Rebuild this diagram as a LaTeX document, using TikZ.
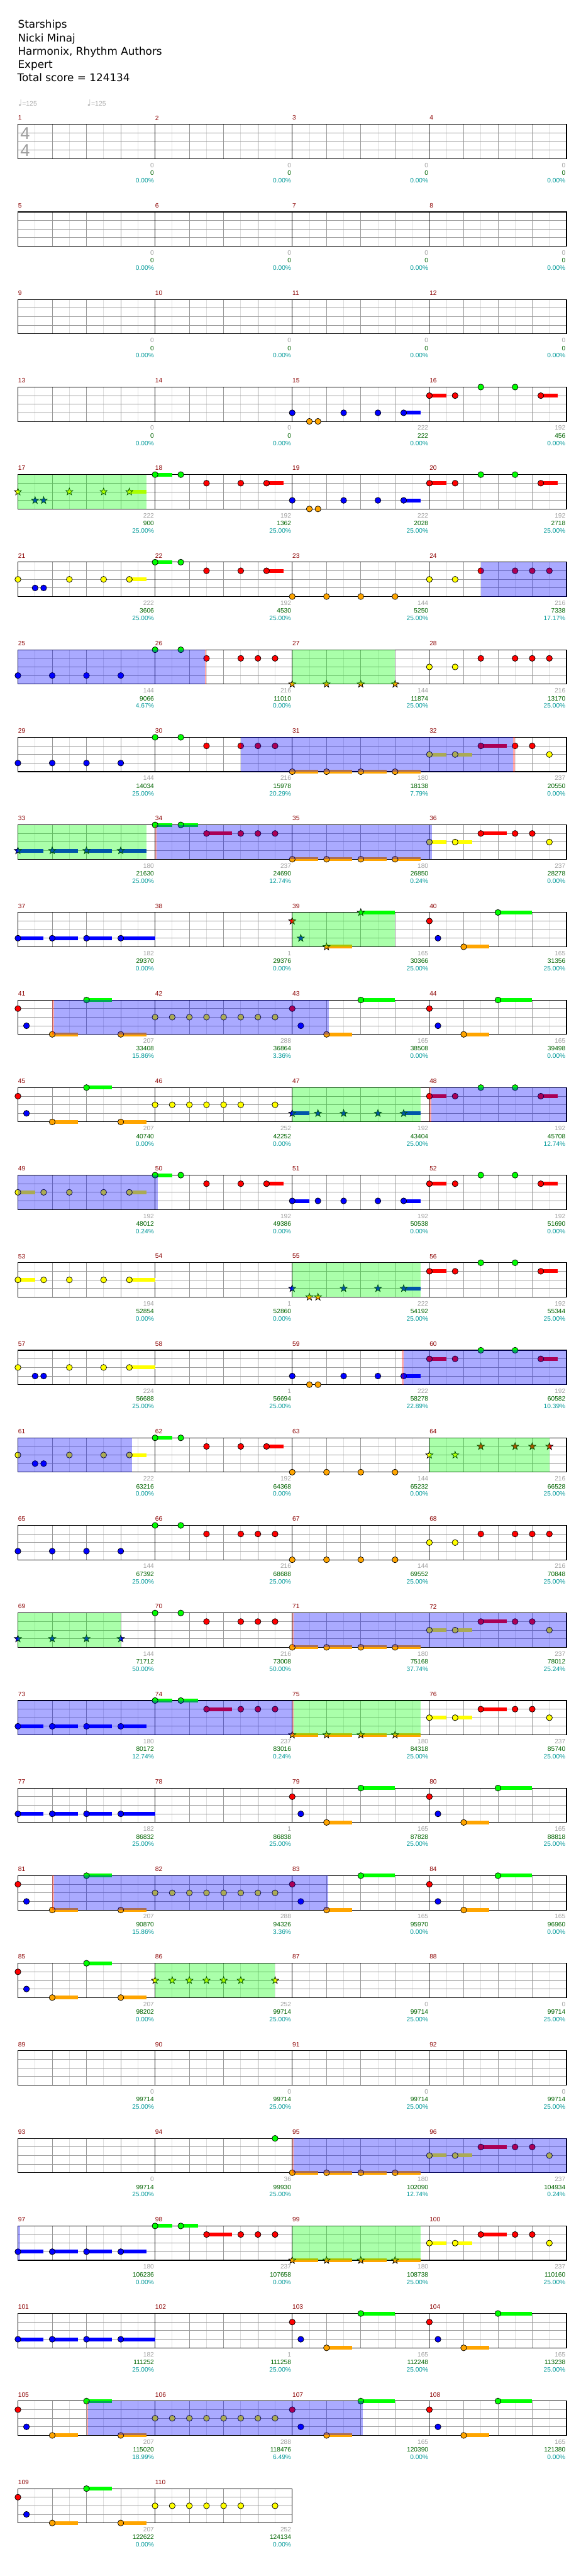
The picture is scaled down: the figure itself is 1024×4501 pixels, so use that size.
\documentclass[tikz,border=0pt]{standalone}
\usepackage{fontspec}
\newfontfamily\titlefont{DejaVu Sans}
\newfontfamily\labelfont{Liberation Sans}

\definecolor{lane0}{HTML}{00FF00}
\definecolor{lane1}{HTML}{FF0000}
\definecolor{lane2}{HTML}{FFFF00}
\definecolor{lane3}{HTML}{0000FF}
\definecolor{lane4}{HTML}{FFA500}
\definecolor{gridlight}{HTML}{DDDDDD}
\definecolor{gridbeat}{HTML}{999999}
\definecolor{numred}{HTML}{8B0000}
\definecolor{ptsgray}{HTML}{A0A0A0}
\definecolor{totgreen}{HTML}{006400}
\definecolor{pctteal}{HTML}{009999}
\definecolor{tempogray}{HTML}{B0B0B0}

\tikzset{
  staffrow/.style={shift={(31.3,{217.3+153*(#1-1)})}, x=29.9625pt},
  gem/.style={draw=black, line width=0.4pt},
  halfline/.style={draw=gridlight, line width=0.5pt},
  beatline/.style={draw=gridbeat, line width=0.5pt},
  laneline/.style={draw=gridbeat, line width=0.5pt},
  barline/.style={draw=black, line width=0.5pt},
  staffedge/.style={draw=black, line width=0.6pt},
  spfill/.style={fill=lane0, fill opacity=0.333},
  odfill/.style={fill=lane3, fill opacity=0.333},
  odpink/.style={fill=lane1, fill opacity=0.333},
  smallnum/.style={inner sep=0pt, font=\labelfont\fontsize{5.6pt}{6pt}\selectfont},
  barnum/.style={smallnum, anchor=west, text=numred},
  ptslbl/.style={smallnum, anchor=east, xshift=-0.75pt, text=ptsgray},
  totlbl/.style={smallnum, anchor=east, xshift=-0.75pt, text=totgreen},
  pctlbl/.style={smallnum, anchor=east, xshift=-0.75pt, text=pctteal},
  titletext/.style={anchor=base west, inner sep=0pt, font=\titlefont\fontsize{9.25pt}{11pt}\selectfont},
  tempo/.style={anchor=base west, inner sep=0pt, text=tempogray},
  timesig/.style={inner sep=0pt, text=ptsgray, font=\labelfont\fontsize{15pt}{15pt}\selectfont}
}

% grid of one row, #1 = number of bars
\newcommand{\staffgrid}[1]{%
  \pgfmathtruncatemacro{\nb}{4*#1}%
  \foreach \h in {0.5,1.5,...,\nb} \draw[halfline] (\h,0) -- (\h,60);
  \foreach \q in {1,...,\nb} \draw[beatline] (\q,0) -- (\q,60);
  \foreach \y in {15,30,45} \draw[laneline] (0,\y) -- (\nb,\y);
  \foreach \mm in {4,8,...,\nb} \draw[barline] (\mm,0) -- (\mm,60);
  \draw[staffedge] (0,0) rectangle (\nb,60);
}
% beat/lane/length
\newcommand{\tails}[1]{\foreach \gpos/\glane/\glen in {#1}{\fill[lane\glane] (\gpos,{15*\glane-3.3}) rectangle ++(\glen,6.6);}}
% beat/lane
\newcommand{\gems}[1]{\foreach \gpos/\glane in {#1}{\draw[gem,fill=lane\glane] (\gpos,{15*\glane}) circle (2.6pt);}}
\newcommand{\stars}[1]{\foreach \gpos/\glane in {#1}{%
  \draw[gem,fill=lane\glane,shift={(\gpos,{15*\glane})}] (90:3.3pt) -- (126:1.35pt) -- (162:3.3pt) -- (198:1.35pt) -- (234:3.3pt) -- (270:1.35pt) -- (306:3.3pt) -- (342:1.35pt) -- (18:3.3pt) -- (54:1.35pt) -- cycle;}}
\newcommand{\spzone}[2]{\fill[spfill] (#1,0) rectangle (#2,60);}
\newcommand{\odzone}[2]{\fill[odfill] (#1,0) rectangle (#2,60);}
\newcommand{\odmark}[1]{\fill[odpink] (#1,0) rectangle ({#1+0.05},60);}
% bar/score/total/percent
\newcommand{\barlabels}[1]{%
  \foreach \mnum/\msc/\mtot/\mpct [count=\i from 0] in {#1}{%
    \node[barnum] (bar\mnum) at ({4*\i},-11.3) {\mnum};
    \node[ptslbl] (pts\mnum) at ({4*\i+4},71.4) {\msc};
    \node[totlbl] (tot\mnum) at ({4*\i+4},85) {\mtot};
    \node[pctlbl] (pct\mnum) at ({4*\i+4},98) {\mpct\%};
  }}

\begin{document}
\begin{tikzpicture}[x=0.5pt, y=-0.5pt]
  \fill[white] (0,0) rectangle (1024,4501);
  \useasboundingbox (0,0) rectangle (1024,4501);

  \node[titletext] (song) at (31,49.3) {Starships};
  \node[titletext] (artist) at (31,72.6) {Nicki Minaj};
  \node[titletext] (charter) at (31,95.9) {Harmonix, Rhythm Authors};
  \node[titletext] (level) at (31,119.2) {Expert};
  \node[titletext] (total) at (30,142.5) {Total score = 124134};

  \node[tempo] (tempoA) at (31.3,185) {{\titlefont\fontsize{7.5pt}{8pt}\selectfont ♩}{\labelfont\fontsize{5.75pt}{6pt}\selectfont =125}};
  \node[tempo] (tempoB) at (152,185) {{\titlefont\fontsize{7.5pt}{8pt}\selectfont ♩}{\labelfont\fontsize{5.75pt}{6pt}\selectfont =125}};

  \begin{scope}[staffrow=1]
    \staffgrid{4}
    \node[timesig] (sigtop) at (0.21,16) {4};
    \node[timesig] (sigbot) at (0.21,45) {4};
    \barlabels{1/0/0/0.00, 2/0/0/0.00, 3/0/0/0.00, 4/0/0/0.00}
  \end{scope}

  \begin{scope}[staffrow=2]
    \staffgrid{4}
    \barlabels{5/0/0/0.00, 6/0/0/0.00, 7/0/0/0.00, 8/0/0/0.00}
  \end{scope}

  \begin{scope}[staffrow=3]
    \staffgrid{4}
    \barlabels{9/0/0/0.00, 10/0/0/0.00, 11/0/0/0.00, 12/0/0/0.00}
  \end{scope}

  \begin{scope}[staffrow=4]
    \staffgrid{4}
    \tails{11.25/3/0.5, 12/1/0.5, 15.25/1/0.5}
    \gems{8/3, 8.5/4, 8.75/4, 9.5/3, 10.5/3, 11.25/3, 12/1, 12.75/1, 13.5/0, 14.5/0, 15.25/1}
    \barlabels{13/0/0/0.00, 14/0/0/0.00, 15/222/222/0.00, 16/192/456/0.00}
  \end{scope}

  \begin{scope}[staffrow=5]
    \staffgrid{4}
    \tails{3.25/2/0.5, 4/0/0.5, 7.25/1/0.5, 11.25/3/0.5, 12/1/0.5, 15.25/1/0.5}
    \gems{4/0, 4.75/0, 5.5/1, 6.5/1, 7.25/1, 8/3, 8.5/4, 8.75/4, 9.5/3, 10.5/3, 11.25/3, 12/1, 12.75/1, 13.5/0, 14.5/0, 15.25/1}
    \stars{0/2, 0.5/3, 0.75/3, 1.5/2, 2.5/2, 3.25/2}
    \spzone{0}{3.75}
    \barlabels{17/222/900/25.00, 18/192/1362/25.00, 19/222/2028/25.00, 20/192/2718/25.00}
  \end{scope}

  \begin{scope}[staffrow=6]
    \staffgrid{4}
    \tails{3.25/2/0.5, 4/0/0.5, 7.25/1/0.5}
    \gems{0/2, 0.5/3, 0.75/3, 1.5/2, 2.5/2, 3.25/2, 4/0, 4.75/0, 5.5/1, 6.5/1, 7.25/1, 8/4, 9/4, 10/4, 11/4, 12/2, 12.75/2, 13.5/1, 14.5/1, 15/1, 15.5/1}
    \odzone{13.5}{16}
    \barlabels{21/222/3606/25.00, 22/192/4530/25.00, 23/144/5250/25.00, 24/216/7338/17.17}
  \end{scope}

  \begin{scope}[staffrow=7]
    \staffgrid{4}
    \gems{0/3, 1/3, 2/3, 3/3, 4/0, 4.75/0, 5.5/1, 6.5/1, 7/1, 7.5/1, 12/2, 12.75/2, 13.5/1, 14.5/1, 15/1, 15.5/1}
    \stars{8/4, 9/4, 10/4, 11/4}
    \odzone{0}{5.45}\odmark{5.45}
    \spzone{8}{11}
    \barlabels{25/144/9066/4.67, 26/216/11010/0.00, 27/144/11874/25.00, 28/216/13170/25.00}
  \end{scope}

  \begin{scope}[staffrow=8]
    \staffgrid{4}
    \tails{8/4/0.75, 9/4/0.75, 10/4/0.75, 11/4/0.75, 12/2/0.5, 12.75/2/0.5, 13.5/1/0.75}
    \gems{0/3, 1/3, 2/3, 3/3, 4/0, 4.75/0, 5.5/1, 6.5/1, 7/1, 7.5/1, 8/4, 9/4, 10/4, 11/4, 12/2, 12.75/2, 13.5/1, 14.5/1, 15/1, 15.5/2}
    \odzone{6.5}{14.45}\odmark{14.45}
    \barlabels{29/144/14034/25.00, 30/216/15978/20.29, 31/180/18138/7.79, 32/237/20550/0.00}
  \end{scope}

  \begin{scope}[staffrow=9]
    \staffgrid{4}
    \tails{0/3/0.75, 1/3/0.75, 2/3/0.75, 3/3/0.75, 4/0/0.5, 4.75/0/0.5, 5.5/1/0.75, 8/4/0.75, 9/4/0.75, 10/4/0.75, 11/4/0.75, 12/2/0.5, 12.75/2/0.5, 13.5/1/0.75}
    \gems{4/0, 4.75/0, 5.5/1, 6.5/1, 7/1, 7.5/1, 8/4, 9/4, 10/4, 11/4, 12/2, 12.75/2, 13.5/1, 14.5/1, 15/1, 15.5/2}
    \stars{0/3, 1/3, 2/3, 3/3}
    \spzone{0}{3.75}
    \odmark{4}\odzone{4.05}{12.08}
    \barlabels{33/180/21630/25.00, 34/237/24690/12.74, 35/180/26850/0.24, 36/237/28278/0.00}
  \end{scope}

  \begin{scope}[staffrow=10]
    \staffgrid{4}
    \tails{0/3/0.75, 1/3/0.75, 2/3/0.75, 3/3/1, 9/4/0.75, 10/0/1, 13/4/0.75, 14/0/1}
    \gems{0/3, 1/3, 2/3, 3/3, 12/1, 12.25/3, 13/4, 14/0}
    \stars{8/1, 8.25/3, 9/4, 10/0}
    \spzone{8}{11}
    \barlabels{37/182/29370/0.00, 38/1/29376/0.00, 39/165/30366/25.00, 40/165/31356/25.00}
  \end{scope}

  \begin{scope}[staffrow=11]
    \staffgrid{4}
    \tails{1/4/0.75, 2/0/0.75, 3/4/0.75, 9/4/0.75, 10/0/1, 13/4/0.75, 14/0/1}
    \gems{0/1, 0.25/3, 1/4, 2/0, 3/4, 4/2, 4.5/2, 5/2, 5.5/2, 6/2, 6.5/2, 7/2, 7.5/2, 8/1, 8.25/3, 9/4, 10/0, 12/1, 12.25/3, 13/4, 14/0}
    \odmark{1}\odzone{1.05}{9.07}
    \barlabels{41/207/33408/15.86, 42/288/36864/3.36, 43/165/38508/0.00, 44/165/39498/0.00}
  \end{scope}

  \begin{scope}[staffrow=12]
    \staffgrid{4}
    \tails{1/4/0.75, 2/0/0.75, 3/4/0.75, 8/3/0.5, 11.25/3/0.5, 12/1/0.5, 15.25/1/0.5}
    \gems{0/1, 0.25/3, 1/4, 2/0, 3/4, 4/2, 4.5/2, 5/2, 5.5/2, 6/2, 6.5/2, 7.5/2, 12/1, 12.75/1, 13.5/0, 14.5/0, 15.25/1}
    \stars{8/3, 8.75/3, 9.5/3, 10.5/3, 11.25/3}
    \spzone{8}{11.75}
    \odmark{12}\odzone{12.05}{16}
    \barlabels{45/207/40740/0.00, 46/252/42252/0.00, 47/192/43404/25.00, 48/192/45708/12.74}
  \end{scope}

  \begin{scope}[staffrow=13]
    \staffgrid{4}
    \tails{0/2/0.5, 3.25/2/0.5, 4/0/0.5, 7.25/1/0.5, 8/3/0.5, 11.25/3/0.5, 12/1/0.5, 15.25/1/0.5}
    \gems{0/2, 0.75/2, 1.5/2, 2.5/2, 3.25/2, 4/0, 4.75/0, 5.5/1, 6.5/1, 7.25/1, 8/3, 8.75/3, 9.5/3, 10.5/3, 11.25/3, 12/1, 12.75/1, 13.5/0, 14.5/0, 15.25/1}
    \odzone{0}{4.08}
    \barlabels{49/192/48012/0.24, 50/192/49386/0.00, 51/192/50538/0.00, 52/192/51690/0.00}
  \end{scope}

  \begin{scope}[staffrow=14]
    \staffgrid{4}
    \tails{0/2/0.5, 3.25/2/0.75, 11.25/3/0.5, 12/1/0.5, 15.25/1/0.5}
    \gems{0/2, 0.75/2, 1.5/2, 2.5/2, 3.25/2, 12/1, 12.75/1, 13.5/0, 14.5/0, 15.25/1}
    \stars{8/3, 8.5/4, 8.75/4, 9.5/3, 10.5/3, 11.25/3}
    \spzone{8}{11.75}
    \barlabels{53/194/52854/0.00, 54/1/52860/0.00, 55/222/54192/25.00, 56/192/55344/25.00}
  \end{scope}

  \begin{scope}[staffrow=15]
    \staffgrid{4}
    \tails{3.25/2/0.75, 11.25/3/0.5, 12/1/0.5, 15.25/1/0.5}
    \gems{0/2, 0.5/3, 0.75/3, 1.5/2, 2.5/2, 3.25/2, 8/3, 8.5/4, 8.75/4, 9.5/3, 10.5/3, 11.25/3, 12/1, 12.75/1, 13.5/0, 14.5/0, 15.25/1}
    \odmark{11.2}\odzone{11.25}{16}
    \barlabels{57/224/56688/25.00, 58/1/56694/25.00, 59/222/58278/22.89, 60/192/60582/10.39}
  \end{scope}

  \begin{scope}[staffrow=16]
    \staffgrid{4}
    \tails{3.25/2/0.5, 4/0/0.5, 7.25/1/0.5}
    \gems{0/2, 0.5/3, 0.75/3, 1.5/2, 2.5/2, 3.25/2, 4/0, 4.75/0, 5.5/1, 6.5/1, 7.25/1, 8/4, 9/4, 10/4, 11/4}
    \stars{12/2, 12.75/2, 13.5/1, 14.5/1, 15/1, 15.5/1}
    \odzone{0}{3.33}
    \spzone{12}{15.5}
    \barlabels{61/222/63216/0.00, 62/192/64368/0.00, 63/144/65232/0.00, 64/216/66528/25.00}
  \end{scope}

  \begin{scope}[staffrow=17]
    \staffgrid{4}
    \gems{0/3, 1/3, 2/3, 3/3, 4/0, 4.75/0, 5.5/1, 6.5/1, 7/1, 7.5/1, 8/4, 9/4, 10/4, 11/4, 12/2, 12.75/2, 13.5/1, 14.5/1, 15/1, 15.5/1}
    \barlabels{65/144/67392/25.00, 66/216/68688/25.00, 67/144/69552/25.00, 68/216/70848/25.00}
  \end{scope}

  \begin{scope}[staffrow=18]
    \staffgrid{4}
    \tails{8/4/0.75, 9/4/0.75, 10/4/0.75, 11/4/0.75, 12/2/0.5, 12.75/2/0.5, 13.5/1/0.75}
    \gems{4/0, 4.75/0, 5.5/1, 6.5/1, 7/1, 7.5/1, 8/4, 9/4, 10/4, 11/4, 12/2, 12.75/2, 13.5/1, 14.5/1, 15/1, 15.5/2}
    \stars{0/3, 1/3, 2/3, 3/3}
    \spzone{0}{3}
    \odmark{8}\odzone{8.05}{16}
    \barlabels{69/144/71712/50.00, 70/216/73008/50.00, 71/180/75168/37.74, 72/237/78012/25.24}
  \end{scope}

  \begin{scope}[staffrow=19]
    \staffgrid{4}
    \tails{0/3/0.75, 1/3/0.75, 2/3/0.75, 3/3/0.75, 4/0/0.5, 4.75/0/0.5, 5.5/1/0.75, 8/4/0.75, 9/4/0.75, 10/4/0.75, 11/4/0.75, 12/2/0.5, 12.75/2/0.5, 13.5/1/0.75}
    \gems{0/3, 1/3, 2/3, 3/3, 4/0, 4.75/0, 5.5/1, 6.5/1, 7/1, 7.5/1, 12/2, 12.75/2, 13.5/1, 14.5/1, 15/1, 15.5/2}
    \stars{8/4, 9/4, 10/4, 11/4}
    \odzone{0}{8}\odmark{8}
    \spzone{8.05}{11.75}
    \barlabels{73/180/80172/12.74, 74/237/83016/0.24, 75/180/84318/25.00, 76/237/85740/25.00}
  \end{scope}

  \begin{scope}[staffrow=20]
    \staffgrid{4}
    \tails{0/3/0.75, 1/3/0.75, 2/3/0.75, 3/3/1, 9/4/0.75, 10/0/1, 13/4/0.75, 14/0/1}
    \gems{0/3, 1/3, 2/3, 3/3, 8/1, 8.25/3, 9/4, 10/0, 12/1, 12.25/3, 13/4, 14/0}
    \barlabels{77/182/86832/25.00, 78/1/86838/25.00, 79/165/87828/25.00, 80/165/88818/25.00}
  \end{scope}

  \begin{scope}[staffrow=21]
    \staffgrid{4}
    \tails{1/4/0.75, 2/0/0.75, 3/4/0.75, 9/4/0.75, 10/0/1, 13/4/0.75, 14/0/1}
    \gems{0/1, 0.25/3, 1/4, 2/0, 3/4, 4/2, 4.5/2, 5/2, 5.5/2, 6/2, 6.5/2, 7/2, 7.5/2, 8/1, 8.25/3, 9/4, 10/0, 12/1, 12.25/3, 13/4, 14/0}
    \odmark{1}\odzone{1.05}{9.05}
    \barlabels{81/207/90870/15.86, 82/288/94326/3.36, 83/165/95970/0.00, 84/165/96960/0.00}
  \end{scope}

  \begin{scope}[staffrow=22]
    \staffgrid{4}
    \tails{1/4/0.75, 2/0/0.75, 3/4/0.75}
    \gems{0/1, 0.25/3, 1/4, 2/0, 3/4}
    \stars{4/2, 4.5/2, 5/2, 5.5/2, 6/2, 6.5/2, 7.5/2}
    \spzone{4}{7.5}
    \barlabels{85/207/98202/0.00, 86/252/99714/25.00, 87/0/99714/25.00, 88/0/99714/25.00}
  \end{scope}

  \begin{scope}[staffrow=23]
    \staffgrid{4}
    \barlabels{89/0/99714/25.00, 90/0/99714/25.00, 91/0/99714/25.00, 92/0/99714/25.00}
  \end{scope}

  \begin{scope}[staffrow=24]
    \staffgrid{4}
    \tails{8/4/0.75, 9/4/0.75, 10/4/0.75, 11/4/0.75, 12/2/0.5, 12.75/2/0.5, 13.5/1/0.75}
    \gems{7.5/0, 8/4, 9/4, 10/4, 11/4, 12/2, 12.75/2, 13.5/1, 14.5/1, 15/1, 15.5/2}
    \odmark{8}\odzone{8.05}{16}
    \barlabels{93/0/99714/25.00, 94/36/99930/25.00, 95/180/102090/12.74, 96/237/104934/0.24}
  \end{scope}

  \begin{scope}[staffrow=25]
    \staffgrid{4}
    \tails{0/3/0.75, 1/3/0.75, 2/3/0.75, 3/3/0.75, 4/0/0.5, 4.75/0/0.5, 5.5/1/0.75, 8/4/0.75, 9/4/0.75, 10/4/0.75, 11/4/0.75, 12/2/0.5, 12.75/2/0.5, 13.5/1/0.75}
    \gems{0/3, 1/3, 2/3, 3/3, 4/0, 4.75/0, 5.5/1, 6.5/1, 7/1, 7.5/1, 12/2, 12.75/2, 13.5/1, 14.5/1, 15/1, 15.5/2}
    \stars{8/4, 9/4, 10/4, 11/4}
    \odzone{0}{0.06}
    \spzone{8}{11.75}
    \barlabels{97/180/106236/0.00, 98/237/107658/0.00, 99/180/108738/25.00, 100/237/110160/25.00}
  \end{scope}

  \begin{scope}[staffrow=26]
    \staffgrid{4}
    \tails{0/3/0.75, 1/3/0.75, 2/3/0.75, 3/3/1, 9/4/0.75, 10/0/1, 13/4/0.75, 14/0/1}
    \gems{0/3, 1/3, 2/3, 3/3, 8/1, 8.25/3, 9/4, 10/0, 12/1, 12.25/3, 13/4, 14/0}
    \barlabels{101/182/111252/25.00, 102/1/111258/25.00, 103/165/112248/25.00, 104/165/113238/25.00}
  \end{scope}

  \begin{scope}[staffrow=27]
    \staffgrid{4}
    \tails{1/4/0.75, 2/0/0.75, 3/4/0.75, 9/4/0.75, 10/0/1, 13/4/0.75, 14/0/1}
    \gems{0/1, 0.25/3, 1/4, 2/0, 3/4, 4/2, 4.5/2, 5/2, 5.5/2, 6/2, 6.5/2, 7/2, 7.5/2, 8/1, 8.25/3, 9/4, 10/0, 12/1, 12.25/3, 13/4, 14/0}
    \odmark{2}\odzone{2.05}{10.05}
    \barlabels{105/207/115020/18.99, 106/288/118476/6.49, 107/165/120390/0.00, 108/165/121380/0.00}
  \end{scope}

  \begin{scope}[staffrow=28]
    \staffgrid{2}
    \tails{1/4/0.75, 2/0/0.75, 3/4/0.75}
    \gems{0/1, 0.25/3, 1/4, 2/0, 3/4, 4/2, 4.5/2, 5/2, 5.5/2, 6/2, 6.5/2, 7.5/2}
    \barlabels{109/207/122622/0.00, 110/252/124134/0.00}
  \end{scope}
\end{tikzpicture}
\end{document}
